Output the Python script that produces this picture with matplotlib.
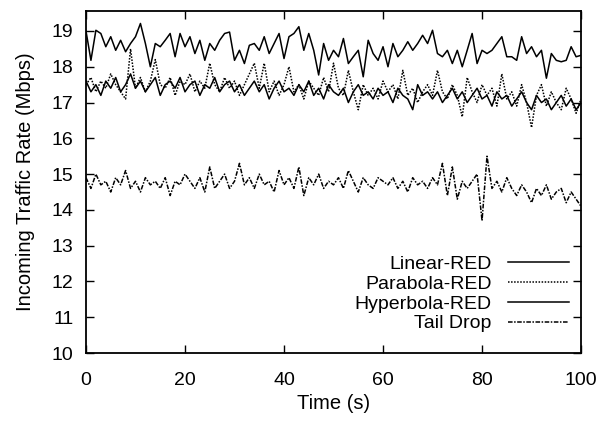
import numpy as np
import matplotlib
matplotlib.use("Agg")
import matplotlib.pyplot as plt

plt.rcParams['font.family'] = ['Liberation Sans', 'DejaVu Sans']

time_s = list(range(0, 101))

linear_red = [
    19.00, 18.18, 19.02, 18.93, 18.56, 18.84, 18.46, 18.74, 18.42, 18.65,
    18.84, 19.21, 18.65, 18.00, 18.65, 18.56, 18.74, 18.93, 18.28, 18.93,
    18.56, 18.84, 18.37, 18.74, 18.18, 18.65, 18.46, 18.74, 18.93, 18.97,
    18.18, 18.46, 18.09, 18.60, 18.65, 18.46, 18.84, 18.37, 18.65, 18.93,
    18.23, 18.84, 18.93, 19.12, 18.46, 18.93, 18.46, 17.77, 18.65, 18.18,
    18.46, 18.28, 18.79, 18.09, 18.28, 18.46, 17.72, 18.74, 18.37, 18.18,
    18.56, 18.00, 18.65, 18.28, 18.46, 18.70, 18.46, 18.65, 18.88, 18.65,
    19.02, 18.37, 18.28, 18.46, 18.09, 18.46, 18.00, 18.46, 18.93, 18.09,
    18.46, 18.37, 18.46, 18.65, 18.84, 18.28, 18.28, 18.18, 18.84, 18.37,
    18.56, 18.28, 18.46, 17.68, 18.37, 18.18, 18.14, 18.18, 18.56, 18.28,
    18.32,
]

parabola_red = [
    17.5, 17.7, 17.3, 17.6, 17.4, 17.8, 17.5, 17.3, 17.1, 18.5,
    17.4, 17.7, 17.3, 17.6, 18.2, 17.5, 17.4, 17.7, 17.2, 17.6,
    17.5, 17.8, 17.3, 17.6, 17.4, 18.1, 17.5, 17.3, 17.7, 17.4,
    17.6, 17.2, 17.5, 17.8, 18.1, 17.4, 18.1, 17.3, 17.6, 17.2,
    17.5, 18.0, 17.3, 17.5, 17.1, 17.6, 17.4, 17.2, 17.7, 17.3,
    18.1, 17.4, 17.2, 17.9, 17.3, 16.8, 17.5, 17.2, 17.4, 17.1,
    17.6, 17.3, 17.5, 17.1, 17.9, 17.2, 17.4, 17.0, 17.3, 17.5,
    17.2, 17.9, 17.3, 17.1, 17.5, 17.2, 16.6, 17.7, 17.3, 17.0,
    17.5, 17.2, 17.4, 16.9, 17.8, 17.1, 17.3, 16.9, 17.5, 17.0,
    16.3, 17.2, 17.5, 16.9, 17.3, 17.0, 16.8, 17.4, 17.1, 16.7,
    17.1,
]

hyperbola_red = [
    17.6, 17.3, 17.5, 17.2, 17.6, 17.4, 17.7, 17.3, 17.5, 17.8,
    17.4, 17.6, 17.3, 17.5, 17.7, 17.2, 17.5, 17.6, 17.4, 17.7,
    17.3, 17.5, 17.6, 17.2, 17.5, 17.4, 17.7, 17.3, 17.5, 17.6,
    17.3, 17.5, 17.2, 17.4, 17.6, 17.3, 17.5, 17.1, 17.4, 17.6,
    17.3, 17.4, 17.2, 17.5, 17.3, 17.6, 17.2, 17.4, 17.1, 17.5,
    17.3, 17.2, 17.4, 17.0, 17.3, 17.5, 17.2, 17.3, 17.1, 17.4,
    17.2, 17.3, 17.0, 17.4, 17.2, 17.1, 16.8, 17.5, 17.2, 17.3,
    17.1, 17.3, 17.0, 17.2, 17.4, 17.1, 17.3, 17.0, 17.2, 17.4,
    17.1, 17.2, 16.9, 17.3, 17.1, 17.2, 16.9, 17.1, 17.3, 17.0,
    16.8, 17.2, 17.0, 17.1, 16.8, 17.0, 17.2, 16.9, 17.1, 16.8,
    17.0,
]

tail_drop = [
    14.9, 14.6, 15.0, 14.7, 14.8, 14.5, 14.9, 14.7, 15.1, 14.6,
    14.8, 14.5, 14.9, 14.7, 14.8, 14.6, 14.9, 14.4, 14.8, 14.7,
    15.0, 14.8, 14.6, 14.9, 14.5, 15.2, 14.6, 14.8, 15.0, 14.6,
    14.8, 15.3, 14.7, 14.9, 14.6, 15.0, 14.7, 14.8, 14.5, 15.1,
    14.7, 14.9, 14.6, 15.2, 14.4, 14.9, 14.7, 15.0, 14.6, 14.8,
    14.7, 14.9, 14.6, 15.1, 14.8, 14.5, 14.9, 14.7, 14.6, 14.9,
    14.8, 14.7, 14.9, 14.6, 14.8, 14.5, 14.9, 14.7, 14.8, 14.6,
    14.9, 14.7, 15.3, 14.4, 15.2, 14.3, 14.8, 14.6, 14.8, 15.0,
    13.7, 15.5, 14.6, 14.8, 14.5, 14.9, 14.6, 14.4, 14.7, 14.5,
    14.2, 14.6, 14.4, 14.7, 14.3, 14.5, 14.6, 14.2, 14.5, 14.3,
    14.1,
]

fig = plt.figure(figsize=(6.03, 4.21), dpi=100)
ax = fig.add_axes([0.1426, 0.1615, 0.821, 0.8125])

ax.plot(time_s, linear_red, color='black', lw=1.1, label='Linear-RED')
ax.plot(time_s, parabola_red, color='black', lw=1.1, linestyle=(0, (1, 1)), label='Parabola-RED')
ax.plot(time_s, hyperbola_red, color='black', lw=1.1, label='Hyperbola-RED')
ax.plot(time_s, tail_drop, color='black', lw=1.1, linestyle=(0, (3, 1, 1, 1)), label='Tail Drop')

ax.set_xlim(0, 100)
ax.set_ylim(10, 19.56)
ax.set_xticks([0, 20, 40, 60, 80, 100])
ax.set_yticks(range(10, 20))
ax.tick_params(direction='in', length=6, width=1, top=True, right=True, labelsize=14)
ax.tick_params(axis='x', pad=14)
ax.tick_params(axis='y', pad=9)
for s in ax.spines.values():
    s.set_linewidth(1.3)

ax.set_xlabel('Time (s)', fontsize=14.5, labelpad=3)
ax.set_ylabel('Incoming Traffic Rate (Mbps)', fontsize=14.5, labelpad=12)

ax.legend(loc='lower right', bbox_to_anchor=(0.975, 0.06), frameon=False,
          markerfirst=False, fontsize=14, handlelength=3.1, handletextpad=0.85,
          labelspacing=0.12, borderpad=0, borderaxespad=0)

fig.savefig('out.png', dpi=100)
